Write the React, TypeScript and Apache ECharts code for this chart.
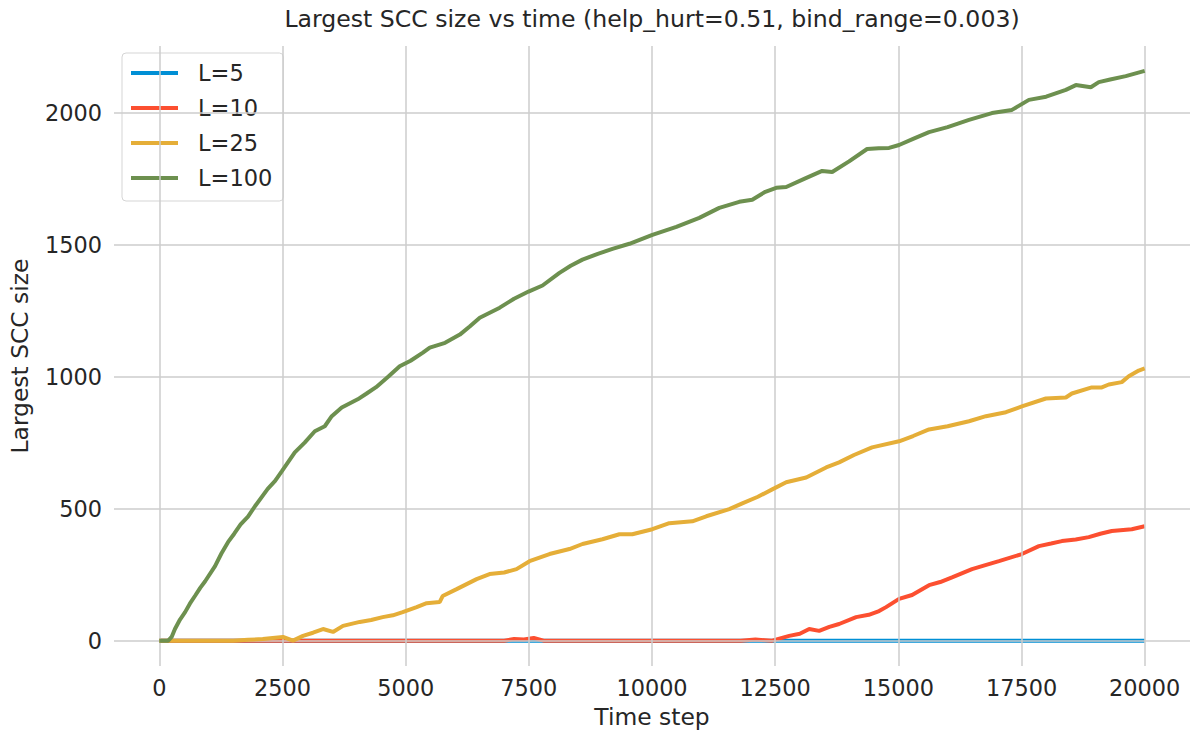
import React, { useEffect, useRef } from "react";
import * as echarts from "echarts";

const xTicks = [0, 2500, 5000, 7500, 10000, 12500, 15000, 17500, 20000];
const yTicks = [0, 500, 1000, 1500, 2000];

const l5Steps = [0, 5000, 10000, 15000, 20000];
const l5Sizes = [0, 0, 0, 0, 0];

const l10Steps = [0, 7000, 7200, 7400, 7600, 7800, 11800, 12100, 12440, 12785, 13000, 13191, 13393, 13600, 13798, 14143, 14400, 14609, 14751, 15015, 15279, 15623, 15850, 16090, 16495, 16750, 17042, 17508, 17853, 18100, 18319, 18600, 18866, 19100, 19332, 19738, 20000];
const l10Sizes = [0, 0, 6, 4, 10, 0, 0, 4, 0, 18, 26, 44, 37, 52, 63, 89, 98, 112, 127, 158, 173, 210, 222, 240, 271, 285, 301, 328, 358, 368, 377, 383, 392, 405, 415, 422, 433];

const l25Steps = [0, 1500, 1800, 2100, 2300, 2510, 2713, 2916, 3120, 3322, 3525, 3728, 4068, 4300, 4534, 4740, 4940, 5223, 5426, 5690, 5751, 6035, 6440, 6703, 7000, 7250, 7514, 7919, 8325, 8589, 8994, 9339, 9602, 10008, 10352, 10819, 11102, 11569, 11833, 12150, 12441, 12724, 13130, 13535, 13798, 14100, 14467, 15015, 15300, 15623, 16000, 16434, 16779, 17184, 17508, 17995, 18400, 18522, 18927, 19130, 19272, 19535, 19677, 19880, 20000];
const l25Sizes = [0, 0, 3, 6, 10, 14, 0, 18, 30, 44, 33, 56, 71, 78, 89, 96, 108, 127, 142, 146, 169, 195, 233, 252, 258, 271, 301, 328, 347, 366, 384, 403, 403, 422, 445, 452, 471, 498, 520, 545, 573, 600, 618, 656, 675, 703, 732, 755, 775, 800, 812, 831, 850, 865, 887, 917, 921, 936, 959, 959, 970, 979, 1001, 1023, 1031];

const l100Steps = [0, 180, 250, 317, 420, 523, 620, 726, 830, 930, 1131, 1260, 1394, 1520, 1650, 1800, 1941, 2200, 2350, 2488, 2750, 2950, 3156, 3358, 3500, 3703, 4027, 4200, 4400, 4650, 4879, 5100, 5350, 5490, 5800, 6100, 6300, 6504, 6910, 7200, 7494, 7778, 8122, 8350, 8589, 8900, 9197, 9541, 10008, 10494, 10960, 11366, 11771, 12035, 12300, 12521, 12724, 13100, 13454, 13657, 14000, 14366, 14600, 14812, 15015, 15300, 15623, 16000, 16434, 16900, 17306, 17650, 18000, 18400, 18603, 18907, 19069, 19300, 19616, 20000];
const l100Sizes = [0, 0, 14, 44, 80, 108, 140, 170, 200, 225, 282, 330, 373, 405, 440, 470, 509, 575, 605, 642, 713, 750, 793, 812, 850, 883, 914, 935, 960, 1000, 1039, 1060, 1091, 1110, 1128, 1159, 1190, 1223, 1261, 1295, 1322, 1345, 1393, 1420, 1443, 1465, 1484, 1503, 1537, 1567, 1601, 1639, 1662, 1670, 1700, 1715, 1718, 1750, 1779, 1775, 1815, 1862, 1865, 1866, 1877, 1900, 1926, 1945, 1972, 1998, 2010, 2048, 2060, 2086, 2104, 2096, 2115, 2125, 2138, 2158];

const seriesNames = ["L=5", "L=10", "L=25", "L=100"];
const seriesColors = ["#008fd5", "#fc4f30", "#e5ae38", "#6d904f"];

const FONT = "DejaVu Sans";
const TEXT = "#262626";

function pairs(steps: number[], sizes: number[]) {
  return steps.map((t, i) => [t, sizes[i]]);
}

export default function App() {
  const ref = useRef<HTMLDivElement>(null);
  useEffect(() => {
    if (!ref.current) return;
    const chart = echarts.init(ref.current, null, { renderer: "svg" });
    const stepsList = [l5Steps, l10Steps, l25Steps, l100Steps];
    const sizesList = [l5Sizes, l10Sizes, l25Sizes, l100Sizes];
    const lineSeries = seriesNames.map((name, i) => ({
      name,
      type: "line",
      data: pairs(stepsList[i], sizesList[i]),
      showSymbol: false,
      symbol: "none",
      z: 3 + i,
      lineStyle: { color: seriesColors[i], width: 4 },
      itemStyle: { color: seriesColors[i] },
    }));
    chart.setOption({
      animation: false,
      backgroundColor: "#ffffff",
      title: {
        text: "Largest SCC size vs time (help_hurt=0.51, bind_range=0.003)",
        left: 652,
        top: 7,
        padding: 0,
        textAlign: "center",
        textStyle: { fontFamily: FONT, fontSize: 23.6, fontWeight: "normal", color: TEXT },
      },
      legend: {
        data: seriesNames,
        orient: "vertical",
        left: 122,
        top: 53,
        icon: "rect",
        itemWidth: 47,
        itemHeight: 4,
        itemGap: 9,
        padding: [7, 11, 10, 9],
        backgroundColor: "rgba(255,255,255,0.8)",
        borderColor: "#d5d5d5",
        borderWidth: 1,
        borderRadius: 4,
        textStyle: { fontFamily: FONT, fontSize: 22.5, color: TEXT, lineHeight: 26, padding: [0, 0, 0, 15] },
      },
      grid: { left: 114, top: 46, width: 1077, height: 621, containLabel: false },
      xAxis: {
        type: "value",
        min: -920,
        max: 20920,
        name: "Time step",
        nameLocation: "middle",
        nameGap: 39,
        nameTextStyle: { fontFamily: FONT, fontSize: 23.4, color: TEXT },
        axisLine: { show: false },
        axisTick: { show: false },
        splitLine: { show: false },
        axisLabel: {
          customValues: xTicks,
          formatter: (v: number) => String(v),
          fontFamily: FONT,
          fontSize: 22.4,
          color: TEXT,
          margin: 11,
        },
      },
      yAxis: {
        type: "value",
        min: -96,
        max: 2252,
        name: "Largest SCC size",
        nameLocation: "middle",
        nameGap: 83,
        nameTextStyle: { fontFamily: FONT, fontSize: 23.4, color: TEXT },
        axisLine: { show: false },
        axisTick: { show: false },
        splitLine: { show: false },
        axisLabel: {
          customValues: yTicks,
          formatter: (v: number) => String(v),
          fontFamily: FONT,
          fontSize: 22.4,
          color: TEXT,
          margin: 12,
        },
      },
      series: [
        {
          name: "grid",
          type: "line",
          data: [],
          z: 1,
          silent: true,
          markLine: {
            silent: true,
            symbol: ["none", "none"],
            label: { show: false },
            lineStyle: { color: "#cccccc", width: 1.5, type: "solid" },
            emphasis: { disabled: true },
            data: [
              ...xTicks.map((v) => ({ xAxis: v })),
              ...yTicks.map((v) => ({ yAxis: v })),
            ],
          },
        },
        ...lineSeries,
      ],
    });
    return () => chart.dispose();
  }, []);
  return (
    <div
      ref={ref}
      style={{ position: "fixed", left: 0, top: 0, width: 1190, height: 733 }}
    />
  );
}
